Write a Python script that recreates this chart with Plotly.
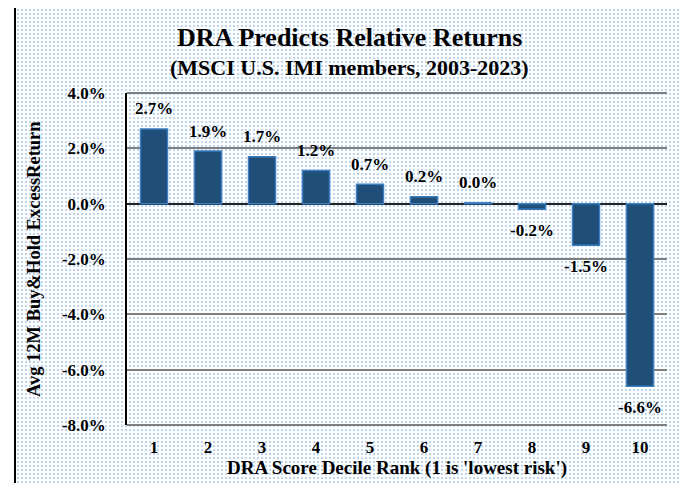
import base64
import plotly.graph_objects as go

deciles = [1, 2, 3, 4, 5, 6, 7, 8, 9, 10]
excess_return = [2.7, 1.9, 1.7, 1.2, 0.7, 0.25, 0.03, -0.2, -1.5, -6.6]
labels = ["2.7%", "1.9%", "1.7%", "1.2%", "0.7%", "0.2%", "0.0%", "-0.2%", "-1.5%", "-6.6%"]
y_ticks = [4, 2, 0, -2, -4, -6, -8]
y_tick_labels = ["4.0%", "2.0%", "0.0%", "-2.0%", "-4.0%", "-6.0%", "-8.0%"]

# page is offset by the default 8px body margin
OFF = 8
PW_, PH_ = 687, 483
W, H = PW_ - OFF, PH_ - OFF
# plot area in page pixels
X0, X1, Y0, Y1 = 127, 667, 93, 425
L, R, T, B = X0 - OFF, PW_ - X1, Y0 - OFF, PH_ - Y1
pw, ph = X1 - X0, Y1 - Y0

svg = (
    f'<svg xmlns="http://www.w3.org/2000/svg" width="{PW_}" height="{PH_}" viewBox="0 0 {PW_} {PH_}">'
    '<defs><pattern id="p" width="4" height="4" patternUnits="userSpaceOnUse">'
    '<rect x="1" y="1" width="2" height="2" fill="#BCD6F0"/></pattern></defs>'
    f'<rect x="15" y="4" width="{684-15}" height="{PH_}" fill="white"/>'
    f'<rect x="15" y="4" width="{684-15}" height="{PH_}" fill="url(#p)"/>'
    '</svg>'
)
src = "data:image/svg+xml;base64," + base64.b64encode(svg.encode()).decode()

FONT = "Liberation Serif, Times New Roman, serif"
GRID = "#7F7F7F"


def px(xp):
    return (xp - X0) / pw


def py(yp):
    return 1 - (yp - Y0) / ph


fig = go.Figure()
fig.add_trace(go.Bar(
    x=deciles, y=excess_return,
    marker=dict(color="#1F4E79", line=dict(color="#3A7DC0", width=1.5)),
    cliponaxis=False,
    width=0.5,
    hoverinfo="x+y",
))

ann = [
    dict(text="<b>DRA Predicts Relative Returns</b>", x=px(349), y=py(37),
         font=dict(family=FONT, size=26, color="black")),
    dict(text="<b>(MSCI U.S. IMI members, 2003-2023)</b>", x=px(349), y=py(68),
         font=dict(family=FONT, size=22, color="black")),
    dict(text="<b>DRA Score Decile Rank (1 is 'lowest risk')</b>", x=px(397), y=py(468),
         font=dict(family=FONT, size=19, color="black")),
    dict(text="<b>Avg 12M Buy&Hold ExcessReturn</b>", x=px(34), y=py(259), textangle=-90,
         font=dict(family=FONT, size=18.5, color="black")),
]
for a in ann:
    a.update(xref="paper", yref="paper", showarrow=False, xanchor="center", yanchor="middle")

for d, v, t in zip(deciles, excess_return, labels):
    ann.append(dict(
        text="<b>%s</b>" % t, x=d, y=v, xref="x", yref="y", showarrow=False,
        xanchor="center", yanchor="middle", yshift=20 if v >= 0 else -21,
        font=dict(family=FONT, size=17, color="black"),
    ))

shapes = [
    dict(type="line", xref="paper", yref="paper", x0=px(15), x1=px(15),
         y0=py(4), y1=py(490), line=dict(color="black", width=2)),
    dict(type="line", xref="paper", yref="paper", x0=px(684), x1=px(684),
         y0=py(4), y1=py(490), line=dict(color="black", width=2)),
    dict(type="line", xref="paper", yref="paper", x0=px(15), x1=px(684),
         y0=py(4), y1=py(4), line=dict(color="black", width=2)),
    # frame lines at the top (4%) and bottom (-8%) of the value range
    dict(type="line", xref="paper", yref="paper", x0=0, x1=1, y0=1, y1=1,
         line=dict(color=GRID, width=2), layer="above"),
    dict(type="line", xref="paper", yref="paper", x0=0, x1=1, y0=0, y1=0,
         line=dict(color=GRID, width=2), layer="above"),
]

fig.update_layout(
    width=W, height=H,
    margin=dict(l=L, r=R, t=T, b=B),
    paper_bgcolor="white",
    plot_bgcolor="rgba(0,0,0,0)",
    showlegend=False,
    font=dict(family=FONT, color="black"),
    annotations=ann,
    images=[dict(
        source=src, xref="paper", yref="paper",
        x=px(0), y=py(0), sizex=PW_ / pw, sizey=PH_ / ph,
        xanchor="left", yanchor="top", sizing="stretch", layer="below",
    )],
    shapes=shapes,
)

fig.update_yaxes(
    automargin=False,
    range=[-8, 4], tickvals=y_ticks, ticktext=["<b>%s</b>" % t for t in y_tick_labels],
    tickfont=dict(family=FONT, size=17, color="black"),
    showgrid=True, gridcolor=GRID, gridwidth=1.5,
    zeroline=True, zerolinecolor="#222222", zerolinewidth=1.5,
    showline=True, linecolor="black", linewidth=1.5,
    ticklabelstandoff=16,
)
fig.update_xaxes(
    automargin=False,
    type="linear", range=[0.5, 10.5],
    tickfont=dict(family=FONT, size=17, color="black"),
    showline=False, showgrid=False, zeroline=False,
    ticklabelstandoff=10,
    tickvals=deciles, ticktext=["<b>%d</b>" % d for d in deciles],
)

fig.write_html("out.html")
